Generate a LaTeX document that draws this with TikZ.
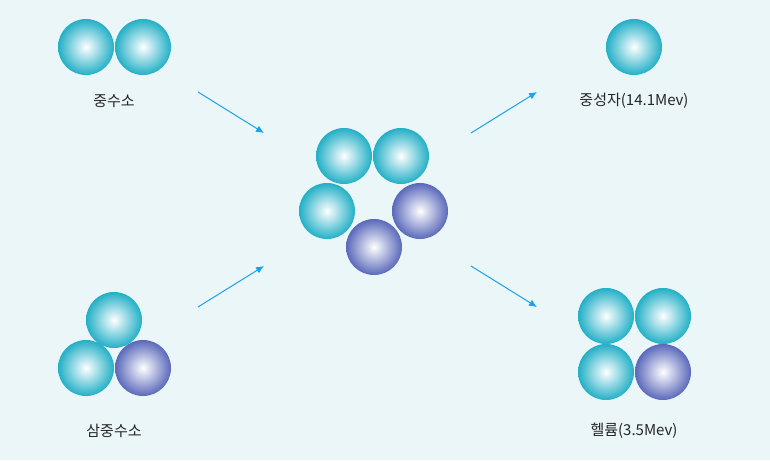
\documentclass[tikz,border=0pt]{standalone}
\usepackage{fontspec}
\usetikzlibrary{arrows.meta}
\setmainfont{Noto Sans CJK KR}[BoldFont={Noto Sans CJK KR Medium}]
\definecolor{bg}{HTML}{EAF6F8}
\definecolor{teal}{HTML}{22AFC6}
\definecolor{purp}{HTML}{5A68BA}
\definecolor{arr}{HTML}{1AA3E8}
\begin{document}
\begin{tikzpicture}[x=1pt,y=-1pt,
  tb/.style={circle,minimum size=56pt,inner sep=0pt,shading=radial,inner color=white,outer color=teal},
  pb/.style={circle,minimum size=56pt,inner sep=0pt,shading=radial,inner color=white,outer color=purp},
  lab/.style={font=\fontsize{15}{17}\selectfont,text=black!85},
  ar/.style={arr,line width=1pt,-{Latex[length=8pt,width=7pt]}}]
\fill[bg] (0,0) rectangle (770,460);
\node[tb] (d1) at (86,47) {};
\node[tb] (d2) at (143,47) {};
\node[lab] (dl) at (114,101) {중수소};
\node[tb] (t1) at (114,320) {};
\node[tb] (t2) at (86,368) {};
\node[pb] (t3) at (143,368) {};
\node[lab] (tl) at (114,431) {삼중수소};
\node[tb] (c1) at (344,156) {};
\node[tb] (c2) at (401,156) {};
\node[tb] (c3) at (327,211) {};
\node[pb] (c4) at (420,211) {};
\node[pb] (c5) at (374,247) {};
\node[tb] (n1) at (634,47) {};
\node[lab] (nl) at (634,101) {중성자(14.1Mev)};
\node[tb] (h1) at (606,316) {};
\node[tb] (h2) at (663,316) {};
\node[tb] (h3) at (606,372) {};
\node[pb] (h4) at (663,372) {};
\node[lab] (hl) at (634,431) {헬륨(3.5Mev)};
\coordinate (a1s) at (198,92); \coordinate (a1e) at (264,133);
\coordinate (a2s) at (198,307); \coordinate (a2e) at (264,266);
\coordinate (a3s) at (471,133); \coordinate (a3e) at (537,92);
\coordinate (a4s) at (471,266); \coordinate (a4e) at (537,307);
\draw[ar] (a1s) -- (a1e);
\draw[ar] (a2s) -- (a2e);
\draw[ar] (a3s) -- (a3e);
\draw[ar] (a4s) -- (a4e);
\end{tikzpicture}
\end{document}
